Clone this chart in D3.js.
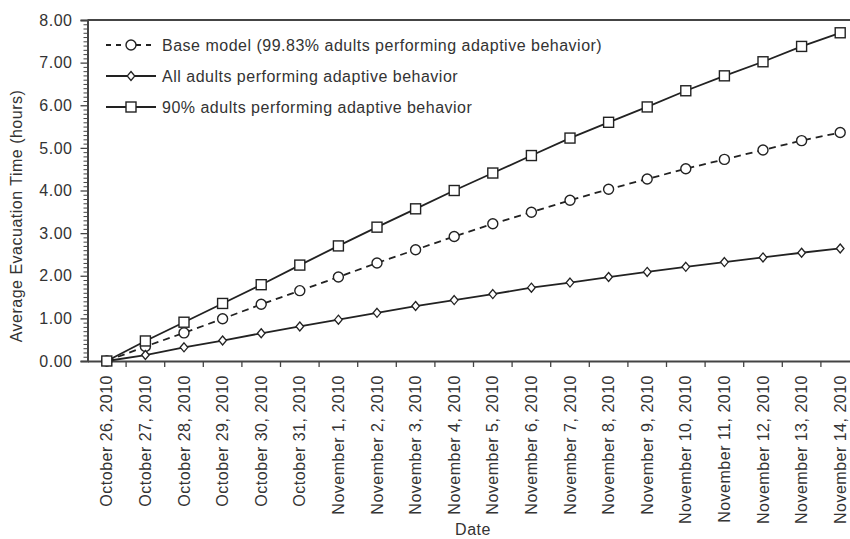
<!DOCTYPE html>
<html>
<head>
<meta charset="utf-8">
<script src="https://cdn.jsdelivr.net/npm/d3@7"></script>
<style>
  html, body { margin: 0; padding: 0; background: #fff; }
  svg { display: block; }
  text { font-family: "Liberation Sans", Arial, Helvetica, sans-serif; fill: #333; }
</style>
</head>
<body>
<svg id="chart" width="850" height="539"></svg>
<script>
const dates = [
  "October 26, 2010", "October 27, 2010", "October 28, 2010", "October 29, 2010",
  "October 30, 2010", "October 31, 2010", "November 1, 2010", "November 2, 2010",
  "November 3, 2010", "November 4, 2010", "November 5, 2010", "November 6, 2010",
  "November 7, 2010", "November 8, 2010", "November 9, 2010", "November 10, 2010",
  "November 11, 2010", "November 12, 2010", "November 13, 2010", "November 14, 2010"
];
const baseModel = [0, 0.34, 0.66, 0.99, 1.33, 1.65, 1.97, 2.30, 2.61, 2.92, 3.22, 3.49, 3.77, 4.03, 4.27, 4.51, 4.73, 4.95, 5.17, 5.36];
const allAdults = [0, 0.14, 0.32, 0.48, 0.65, 0.81, 0.97, 1.13, 1.29, 1.43, 1.57, 1.72, 1.84, 1.97, 2.09, 2.21, 2.32, 2.43, 2.54, 2.64];
const ninetyPct = [0, 0.47, 0.91, 1.35, 1.79, 2.25, 2.70, 3.14, 3.57, 4.00, 4.41, 4.82, 5.23, 5.60, 5.96, 6.34, 6.69, 7.02, 7.38, 7.70];
const seriesNames = [
  "Base model (99.83% adults performing adaptive behavior)",
  "All adults performing adaptive behavior",
  "90% adults performing adaptive behavior"
];
const yTicks = [0, 1, 2, 3, 4, 5, 6, 7, 8];
const yTitle = "Average Evacuation Time (hours)";
const xTitle = "Date";

const svg = d3.select("#chart");
const mLeft = 87.5, mTop = 20, mBottom = 361, step = 38.6;
const x = d3.scaleBand().domain(dates).range([mLeft, mLeft + step * dates.length]).padding(0);
const y = d3.scaleLinear().domain([0, 8]).range([mBottom, mTop]);
const cx = d => x(d) + x.bandwidth() / 2;

const ink = "#222";

// frame: top border
svg.append("line").attr("x1", mLeft).attr("x2", 850).attr("y1", y(8)).attr("y2", y(8))
  .attr("stroke", "#444").attr("stroke-width", 2);

// y axis minor ticks
const yMinor = d3.range(0, 80).map(i => i / 10).filter(v => Math.abs(v - Math.round(v)) > 1e-6);
const yAxisMinor = d3.axisLeft(y).tickValues(yMinor).tickSize(4).tickFormat("");
const gMinor = svg.append("g").attr("transform", `translate(${mLeft},0)`).call(yAxisMinor);
gMinor.select(".domain").remove();
gMinor.selectAll("line").attr("stroke", "#444").attr("stroke-width", 1);

// y axis major
const yAxis = d3.axisLeft(y).tickValues(yTicks).tickSize(7).tickPadding(8).tickFormat(d3.format(".2f"));
const gy = svg.append("g").attr("transform", `translate(${mLeft},0)`).call(yAxis);
gy.select(".domain").attr("stroke", "#444").attr("stroke-width", 2);
gy.selectAll("line").attr("stroke", "#444").attr("stroke-width", 1.3);
gy.selectAll("text").style("font-size", "16px").style("letter-spacing", "0.5px").attr("fill", "#333");

// x axis: line + ticks at band boundaries
const xAxis = d3.axisBottom(x).tickSize(0).tickPadding(14);
const gx = svg.append("g").attr("transform", `translate(0,${mBottom})`).call(xAxis);
gx.select(".domain").attr("stroke", "#444").attr("stroke-width", 2);
gx.selectAll("text")
  .style("font-size", "16px").style("letter-spacing", "0.5px")
  .attr("text-anchor", "end")
  .attr("transform", "rotate(-90)")
  .attr("x", -14).attr("y", 0).attr("dy", "0.35em");
svg.append("g").selectAll("line").data(dates.slice(1)).join("line")
  .attr("x1", d => x(d)).attr("x2", d => x(d))
  .attr("y1", mBottom).attr("y2", mBottom + 6)
  .attr("stroke", "#444").attr("stroke-width", 1.3);

// titles
svg.append("text").attr("transform", `translate(22,216) rotate(-90)`)
  .attr("text-anchor", "middle").style("font-size", "16px").style("letter-spacing", "0.5px")
  .text(yTitle);
svg.append("text").attr("x", 473).attr("y", 535).attr("text-anchor", "middle")
  .style("font-size", "16px").style("letter-spacing", "0.5px").text(xTitle);

// marker drawers
function drawMarker(g, type, px, py) {
  if (type === "circle") {
    g.append("circle").attr("cx", px).attr("cy", py).attr("r", 5)
      .attr("fill", "#fff").attr("stroke", ink).attr("stroke-width", 1.4);
  } else if (type === "square") {
    g.append("rect").attr("x", px - 5).attr("y", py - 5).attr("width", 10).attr("height", 10)
      .attr("fill", "#fff").attr("stroke", ink).attr("stroke-width", 1.4);
  } else {
    g.append("path").attr("d", `M${px},${py - 4.5}L${px + 3.8},${py}L${px},${py + 4.5}L${px - 3.8},${py}Z`)
      .attr("fill", "#fff").attr("stroke", ink).attr("stroke-width", 1.3);
  }
}

const series = [
  { name: seriesNames[0], values: baseModel, marker: "circle", dash: "7,5" },
  { name: seriesNames[1], values: allAdults, marker: "diamond", dash: null },
  { name: seriesNames[2], values: ninetyPct, marker: "square", dash: null }
];

const line = d3.line().x((d, i) => cx(dates[i])).y(d => y(d));

const plot = svg.append("g");
series.forEach(s => {
  plot.append("path").datum(s.values).attr("d", line)
    .attr("fill", "none").attr("stroke", ink).attr("stroke-width", 1.8)
    .attr("stroke-dasharray", s.dash);
});
series.forEach(s => {
  const g = plot.append("g");
  s.values.forEach((v, i) => drawMarker(g, s.marker, cx(dates[i]), y(v)));
});

// legend
const legY = [45, 76, 107];
series.forEach((s, i) => {
  const g = svg.append("g");
  g.append("line").attr("x1", 106).attr("x2", 156).attr("y1", legY[i]).attr("y2", legY[i])
    .attr("stroke", ink).attr("stroke-width", 1.8).attr("stroke-dasharray", s.dash ? "5,5" : null);
  drawMarker(g, s.marker, 131, legY[i]);
  g.append("text").attr("x", 162).attr("y", legY[i]).attr("dy", "0.36em")
    .style("font-size", "16px").style("letter-spacing", "0.5px").text(s.name);
});
</script>
</body>
</html>
